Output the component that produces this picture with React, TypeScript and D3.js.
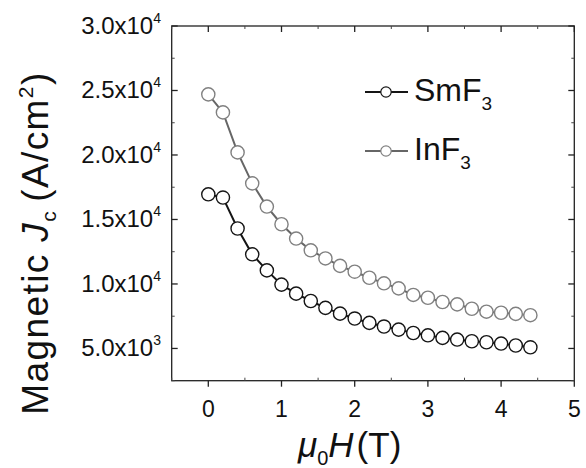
import React from "react";
import * as d3 from "d3";

const fieldT = [0, 0.2, 0.4, 0.6, 0.8, 1.0, 1.2, 1.4, 1.6, 1.8, 2.0, 2.2, 2.4, 2.6, 2.8, 3.0, 3.2, 3.4, 3.6, 3.8, 4.0, 4.2, 4.4];
const smF3 = [16950, 16700, 14300, 12300, 11050, 9950, 9250, 8680, 8150, 7700, 7320, 6980, 6700, 6460, 6200, 6020, 5820, 5690, 5560, 5480, 5380, 5230, 5090];
const inF3 = [24700, 23300, 20200, 17800, 16000, 14630, 13520, 12610, 11980, 11400, 10950, 10480, 10050, 9660, 9150, 8930, 8600, 8420, 8080, 7850, 7770, 7680, 7580];
const xTicks = [0, 1, 2, 3, 4, 5];
const yTicks = [5000, 10000, 15000, 20000, 25000, 30000];
const yTickMant = ["5.0", "1.0", "1.5", "2.0", "2.5", "3.0"];
const yTickExp = ["3", "4", "4", "4", "4", "4"];
const seriesNames = ["SmF", "InF"];

const W = 586;
const H = 468;
const L = 171.7, R = 574.3, T = 26, B = 380.7;
const FONT = "'Liberation Sans', Arial, sans-serif";

export default function App() {
  const x = d3.scaleLinear().domain([-0.5, 5]).range([L, R]);
  const y = d3.scaleLinear().domain([2500, 30000]).range([B, T]);
  const line = d3.line<number>().x((_, i) => x(fieldT[i])).y((d) => y(d));
  const xMinor = d3.range(-0.5, 5.01, 0.5).filter((v) => Math.abs(v - Math.round(v)) > 0.01);
  const yMinor = d3.range(2500, 30001, 2500).filter((v) => v % 5000 !== 0);

  const series = [
    { name: seriesNames[0], data: smF3, stroke: "#151515", lineColor: "#151515", ly: 92 },
    { name: seriesNames[1], data: inF3, stroke: "#808080", lineColor: "#666666", ly: 151 },
  ];

  return (
    <svg width={W} height={H} style={{ position: "absolute", left: 0, top: 0, background: "#fff" }} fontFamily={FONT}>
      <rect x={0} y={0} width={W} height={H} fill="#fff" />
      <rect x={L} y={T} width={R - L} height={B - T} fill="none" stroke="#222" strokeWidth={1.3} />
      {xTicks.map((v) => (
        <g key={"xt" + v}>
          <line x1={x(v)} x2={x(v)} y1={B} y2={B + 6} stroke="#222" strokeWidth={1.3} />
          <line x1={x(v)} x2={x(v)} y1={T} y2={T + 6} stroke="#222" strokeWidth={1.3} />
          <text x={x(v)} y={417} textAnchor="middle" fontSize={23} fill="#111">{v}</text>
        </g>
      ))}
      {xMinor.map((v) => (
        <g key={"xm" + v}>
          <line x1={x(v)} x2={x(v)} y1={B} y2={B - 3} stroke="#444" strokeWidth={1} />
          <line x1={x(v)} x2={x(v)} y1={T} y2={T + 3} stroke="#444" strokeWidth={1} />
        </g>
      ))}
      {yTicks.map((v, i) => (
        <g key={"yt" + v}>
          <line x1={L} x2={L + 6} y1={y(v)} y2={y(v)} stroke="#222" strokeWidth={1.3} />
          <line x1={R} x2={R - 6} y1={y(v)} y2={y(v)} stroke="#222" strokeWidth={1.3} />
          <text x={161} y={y(v) + 8} textAnchor="end" fontSize={24} fill="#111">
            {yTickMant[i] + "x10"}
            <tspan fontSize={14} dy={-11}>{yTickExp[i]}</tspan>
          </text>
        </g>
      ))}
      {yMinor.map((v) => (
        <g key={"ym" + v}>
          <line x1={L} x2={L + 3} y1={y(v)} y2={y(v)} stroke="#444" strokeWidth={1} />
          <line x1={R} x2={R - 3} y1={y(v)} y2={y(v)} stroke="#444" strokeWidth={1} />
        </g>
      ))}
      {series.map((s) => (
        <g key={s.name}>
          <path d={line(s.data) || ""} fill="none" stroke={s.lineColor} strokeWidth={2} />
          {s.data.map((v, i) => (
            <circle key={i} cx={x(fieldT[i])} cy={y(v)} r={6.6} fill="#fff" stroke={s.stroke} strokeWidth={1.4} />
          ))}
        </g>
      ))}
      {series.map((s) => (
        <g key={"lg" + s.name}>
          <line x1={365} x2={408} y1={s.ly} y2={s.ly} stroke={s.lineColor} strokeWidth={2} />
          <circle cx={386} cy={s.ly} r={5.2} fill="#fff" stroke={s.stroke} strokeWidth={1.2} />
          <text x={414} y={s.ly + 9} fontSize={32} fill="#111">
            {s.name}
            <tspan fontSize={19} dy={9}>3</tspan>
          </text>
        </g>
      ))}
      <text x={298} y={457} fontSize={35} fill="#111">
        <tspan fontStyle="italic">μ</tspan>
        <tspan fontSize={20} dy={8}>0</tspan>
        <tspan fontStyle="italic" dy={-8}>H</tspan>
        <tspan dx={3}>(T)</tspan>
      </text>
      <text transform={`translate(48,243) rotate(-90)`} textAnchor="middle" fontSize={37} letterSpacing={1.4} fill="#111">
        <tspan>Magnetic </tspan>
        <tspan fontStyle="italic">J</tspan>
        <tspan fontSize={21} dy={8}>c</tspan>
        <tspan dy={-8} dx={8}>(A/cm</tspan>
        <tspan fontSize={21} dy={-15}>2</tspan>
        <tspan dy={15}>)</tspan>
      </text>
    </svg>
  );
}
